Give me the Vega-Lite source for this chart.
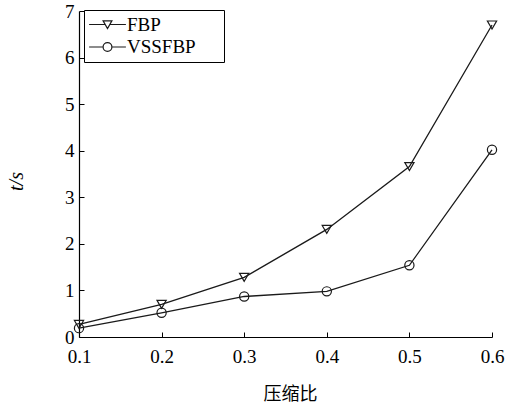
{
  "$schema": "https://vega.github.io/schema/vega-lite/v6.json",
  "width": 413,
  "height": 326,
  "autosize": {"type": "none"},
  "padding": {"left": 79, "top": 11, "right": 16, "bottom": 70},
  "background": "white",
  "config": {
    "view": {"stroke": null},
    "font": "Liberation Serif",
    "axis": {
      "grid": false,
      "domainColor": "#000000",
      "domainWidth": 1.2,
      "tickColor": "#000000",
      "tickSize": -5,
      "labelFlush": false,
      "labelFont": "Liberation Serif",
      "labelFontSize": 19,
      "labelColor": "#000000",
      "titleColor": "#000000"
    }
  },
  "data": {
    "values": [
      {"ratio": 0.1, "t": 0.27, "method": "FBP"},
      {"ratio": 0.2, "t": 0.70, "method": "FBP"},
      {"ratio": 0.3, "t": 1.28, "method": "FBP"},
      {"ratio": 0.4, "t": 2.31, "method": "FBP"},
      {"ratio": 0.5, "t": 3.66, "method": "FBP"},
      {"ratio": 0.6, "t": 6.70, "method": "FBP"},
      {"ratio": 0.1, "t": 0.19, "method": "VSSFBP"},
      {"ratio": 0.2, "t": 0.52, "method": "VSSFBP"},
      {"ratio": 0.3, "t": 0.87, "method": "VSSFBP"},
      {"ratio": 0.4, "t": 0.98, "method": "VSSFBP"},
      {"ratio": 0.5, "t": 1.54, "method": "VSSFBP"},
      {"ratio": 0.6, "t": 4.02, "method": "VSSFBP"}
    ]
  },
  "encoding": {
    "x": {
      "field": "ratio", "type": "quantitative",
      "scale": {"domain": [0.1, 0.6], "nice": false, "zero": false},
      "axis": {
        "values": [0.1, 0.2, 0.3, 0.4, 0.5, 0.6], "format": ".1f",
        "labelPadding": 15,
        "title": "压缩比",
        "titleFont": "Noto Sans CJK SC", "titleFontSize": 18, "titleFontWeight": "normal",
        "titleX": 211, "titleY": 57, "titleBaseline": "middle", "titleAlign": "center"
      }
    },
    "y": {
      "field": "t", "type": "quantitative",
      "scale": {"domain": [0, 7], "nice": false},
      "axis": {
        "values": [0, 1, 2, 3, 4, 5, 6, 7], "format": "d",
        "labelPadding": 10,
        "title": "t/s",
        "titleFont": "Liberation Serif", "titleFontSize": 20, "titleFontWeight": "normal",
        "titleFontStyle": "italic",
        "titleX": -63, "titleY": 170, "titleAlign": "center", "titleBaseline": "middle"
      }
    }
  },
  "layer": [
    {
      "mark": {"type": "line", "color": "#1a1a1a", "strokeWidth": 1.3},
      "encoding": {"detail": {"field": "method"}}
    },
    {
      "mark": {"type": "point", "filled": false, "color": "#1a1a1a", "strokeWidth": 1.2, "opacity": 1, "size": 85},
      "encoding": {
        "shape": {
          "field": "method", "type": "nominal",
          "scale": {"domain": ["FBP", "VSSFBP"], "range": ["triangle-down", "circle"]},
          "legend": null
        }
      }
    },
    {
      "transform": [{"filter": "false"}],
      "mark": {"type": "point", "filled": false, "color": "#1a1a1a", "strokeWidth": 1.2, "opacity": 1, "size": 256},
      "encoding": {
        "shape": {
          "field": "method", "type": "nominal",
          "scale": {
            "domain": ["FBP", "VSSFBP"],
            "range": [
              "M-2.3,0H-0.25M0.25,0H2.3M-0.55,-0.45L0.55,-0.45L0,0.5ZM13.6,0",
              "M-2.3,0H-0.55M0.55,0H2.3M-0.55,0A0.55,0.55 0 1,0 0.55,0A0.55,0.55 0 1,0 -0.55,0ZM13.6,0"
            ]
          },
          "legend": {
            "title": null,
            "orient": "none",
            "legendX": 5,
            "legendY": -1,
            "padding": 5,
            "strokeColor": "#000000",
            "fillColor": "#ffffff",
            "symbolOffset": 9,
            "labelOffset": 10,
            "rowPadding": 2.5,
            "symbolStrokeColor": "#1a1a1a",
            "symbolStrokeWidth": 1.2,
            "symbolFillColor": "transparent",
            "symbolSize": 256,
            "labelFont": "Liberation Serif",
            "labelFontSize": 19,
            "labelColor": "#000000"
          }
        }
      }
    }
  ],
  "resolve": {"scale": {"shape": "independent"}}
}
